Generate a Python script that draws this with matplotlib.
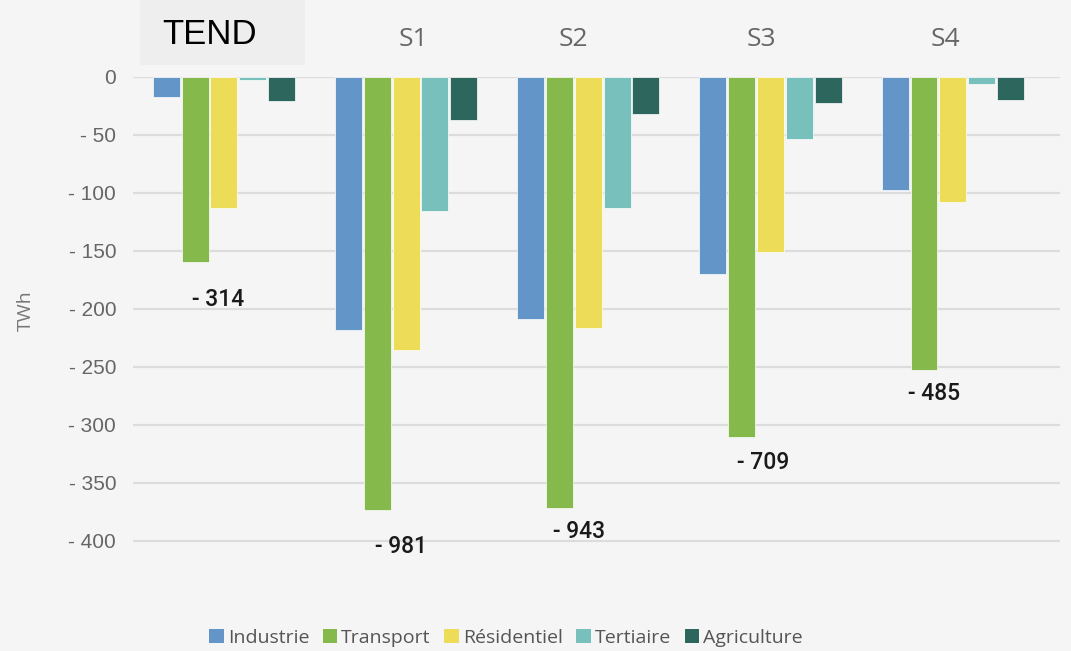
import numpy as np
import matplotlib.pyplot as plt
from matplotlib.patches import Rectangle, Patch
import matplotlib.transforms as mtransforms

scenarios = ['TEND', 'S1', 'S2', 'S3', 'S4']
secteurs = ['Industrie', 'Transport', 'Résidentiel', 'Tertiaire', 'Agriculture']
couleurs = ['#6395c9', '#86b94b', '#ecdc57', '#77c0bb', '#2c665d']

industrie = [-17, -218, -209, -170, -98]
transport = [-160, -374, -372, -311, -253]
residentiel = [-113, -236, -217, -151, -108]
tertiaire = [-3, -116, -113, -54, -6]
agriculture = [-21, -37, -32, -23, -20]
totaux = [-314, -981, -943, -709, -485]

yticks = [0, -50, -100, -150, -200, -250, -300, -350, -400]

# placement des etiquettes (decalage en x, position en y)
dx_total = [-0.03, -0.03, -0.05, -0.04, -0.10]
y_total = [-192, -405, -392, -333, -273]
dx_titre = [0, 0.04, -0.08, -0.05, -0.04]

series = [industrie, transport, residentiel, tertiaire, agriculture]

fig = plt.figure(figsize=(10.71, 6.51), dpi=100)
fig.patch.set_facecolor('#f5f5f5')
ax = fig.add_axes([0.124, 0.134, 0.866, 0.748])
ax.set_facecolor('#f5f5f5')

x = np.arange(len(scenarios))
pas = 0.158
largeur = 0.148
for i, (nom, vals, c) in enumerate(zip(secteurs, series, couleurs)):
    ax.bar(x + (i - 2) * pas, vals, largeur, color=c, label=nom,
           edgecolor='white', linewidth=0.5, zorder=3)

# totaux sous les groupes
for xi, tot, dx, yy in zip(x, totaux, dx_total, y_total):
    ax.text(xi + dx, yy, f'- {abs(tot)}', ha='center', va='center',
            fontsize=16.5, fontweight='medium', family='Roboto',
            color='#1a1a1a', zorder=4)

ax.set_xlim(-0.5, 4.59)
ax.set_ylim(-420, 0)
ax.set_yticks(yticks)
ax.set_yticklabels(['0'] + [f'- {abs(v)}' for v in yticks[1:]],
                   fontsize=15, family='Liberation Sans', color='#666666')
ax.set_xticks([])
ax.tick_params(axis='y', length=0, pad=12)
ax.grid(axis='y', color='#dcdcdc', linewidth=1.6, zorder=0)
for s in ax.spines.values():
    s.set_visible(False)

ax.set_ylabel('TWh', fontsize=14, color='#777777', family='Open Sans')
ax.yaxis.set_label_coords(-0.106, 0.52)

# titres des scenarios
trans = mtransforms.blended_transform_factory(ax.transData, ax.transAxes)
for xi, sc, dx in zip(x, scenarios, dx_titre):
    if sc == 'TEND':
        continue
    ax.text(xi + dx, 1.076, sc, transform=trans, ha='center', va='center',
            fontsize=19, color='#666666', family='Open Sans')

fig.patches.append(Rectangle((140 / 1071, 1 - 65 / 651), 165 / 1071, 65 / 651,
                             transform=fig.transFigure, facecolor='#eeeeee',
                             edgecolor='none', zorder=0))
fig.text(210 / 1071, 1 - 34 / 651, 'TEND', ha='center', va='center',
         fontsize=25, color='black', family='Liberation Sans')

handles = [Patch(facecolor=c, label=n) for n, c in zip(secteurs, couleurs)]
fig.legend(handles=handles, loc='center', bbox_to_anchor=(506 / 1071, 1 - 638 / 651),
           ncol=5, frameon=False, handlelength=0.75, handleheight=0.75,
           handletextpad=0.2, columnspacing=0.7,
           prop={'family': 'Open Sans', 'size': 14}, labelcolor='#555555')

plt.savefig('out.png', dpi=100, facecolor=fig.get_facecolor())
